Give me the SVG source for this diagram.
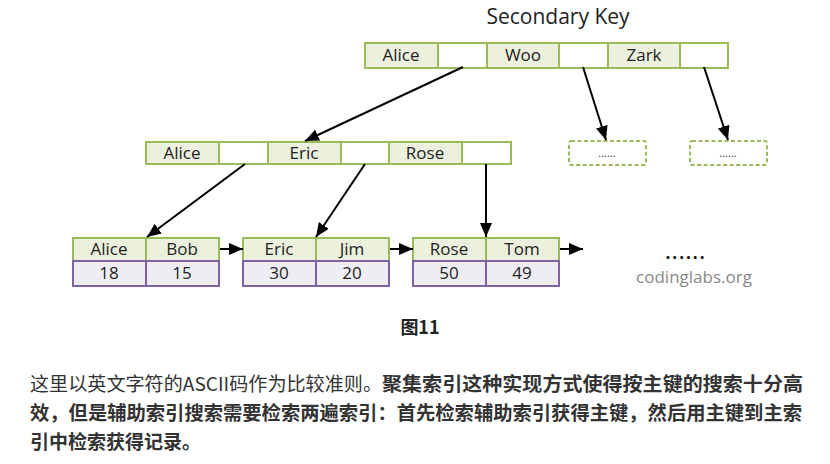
<svg xmlns="http://www.w3.org/2000/svg" width="830" height="464" viewBox="0 0 830 464">
<defs>
<marker id="ah" markerUnits="userSpaceOnUse" markerWidth="14" markerHeight="12" viewBox="0 0 14 12" refX="14" refY="6" orient="auto">
<path d="M0,0 L14,6 L0,12 Z" fill="#000"/>
</marker>
<style>
.k{fill:#ebf1dd;stroke:#9bbb59;stroke-width:2}
.e{fill:#fff;stroke:#9bbb59;stroke-width:2}
.v{fill:#efedf4;stroke:#8064a2;stroke-width:2}
.d{fill:#fff;stroke:#9bbb59;stroke-width:2;stroke-dasharray:4 2.5}
.t{font-family:"Open Sans","Noto Sans",sans-serif;font-size:17px;fill:#222;text-anchor:middle}
.c{stroke:#000;stroke-width:2;fill:none;marker-end:url(#ah)}
.p{font-family:"Noto Sans CJK SC",sans-serif;font-size:19px;fill:#333}
</style>
</defs>
<rect width="830" height="464" fill="#fff"/>
<text x="558" y="24" style="font-family:'Open Sans','Noto Sans',sans-serif;font-size:21px;fill:#222;text-anchor:middle">Secondary Key</text>

<g id="root">
<rect class="k" x="365" y="43" width="73" height="25"/>
<rect class="e" x="438" y="43" width="49" height="25"/>
<rect class="k" x="487" y="43" width="72" height="25"/>
<rect class="e" x="559" y="43" width="49" height="25"/>
<rect class="k" x="608" y="43" width="72" height="25"/>
<rect class="e" x="680" y="43" width="48" height="25"/>
<text class="t" x="401" y="61">Alice</text>
<text class="t" x="523" y="61">Woo</text>
<text class="t" x="644" y="61">Zark</text>
</g>

<g id="inner">
<rect class="k" x="146" y="142" width="73" height="22"/>
<rect class="e" x="219" y="142" width="49" height="22"/>
<rect class="k" x="268" y="142" width="73" height="22"/>
<rect class="e" x="341" y="142" width="48" height="22"/>
<rect class="k" x="389" y="142" width="73" height="22"/>
<rect class="e" x="462" y="142" width="49" height="22"/>
<text class="t" x="182" y="159">Alice</text>
<text class="t" x="304" y="159">Eric</text>
<text class="t" x="425" y="159">Rose</text>
</g>

<g id="more1">
<rect class="d" x="569" y="141" width="77" height="24" rx="2"/>
<text x="607" y="157" style="font-family:'Open Sans',sans-serif;font-size:11px;fill:#333;text-anchor:middle">......</text>
</g>
<g id="more2">
<rect class="d" x="690" y="141" width="77" height="24" rx="2"/>
<text x="728" y="157" style="font-family:'Open Sans',sans-serif;font-size:11px;fill:#333;text-anchor:middle">......</text>
</g>

<g id="leaf1">
<rect class="k" x="73" y="238" width="73" height="23"/>
<rect class="k" x="146" y="238" width="73" height="23"/>
<rect class="v" x="73" y="261" width="73" height="25"/>
<rect class="v" x="146" y="261" width="73" height="25"/>
<text class="t" x="109" y="255">Alice</text>
<text class="t" x="182" y="255">Bob</text>
<text class="t" x="109" y="279">18</text>
<text class="t" x="182" y="279">15</text>
</g>
<g id="leaf2">
<rect class="k" x="243" y="238" width="73" height="23"/>
<rect class="k" x="316" y="238" width="73" height="23"/>
<rect class="v" x="243" y="261" width="73" height="25"/>
<rect class="v" x="316" y="261" width="73" height="25"/>
<text class="t" x="279" y="255">Eric</text>
<text class="t" x="352" y="255">Jim</text>
<text class="t" x="279" y="279">30</text>
<text class="t" x="352" y="279">20</text>
</g>
<g id="leaf3">
<rect class="k" x="413" y="238" width="73" height="23"/>
<rect class="k" x="486" y="238" width="73" height="23"/>
<rect class="v" x="413" y="261" width="73" height="25"/>
<rect class="v" x="486" y="261" width="73" height="25"/>
<text class="t" x="449" y="255">Rose</text>
<text class="t" x="522" y="255">Tom</text>
<text class="t" x="449" y="279">50</text>
<text class="t" x="522" y="279">49</text>
</g>

<g id="connectors">
<line class="c" x1="463" y1="67" x2="305" y2="141"/>
<line class="c" x1="583" y1="67" x2="606" y2="140"/>
<line class="c" x1="704" y1="67" x2="728" y2="140"/>
<line class="c" x1="245" y1="164" x2="147" y2="237"/>
<line class="c" x1="365" y1="164" x2="316" y2="237"/>
<line class="c" x1="486" y1="164" x2="486" y2="237"/>
<line class="c" x1="220" y1="249" x2="243" y2="249"/>
<line class="c" x1="390" y1="249" x2="413" y2="249"/>
<line class="c" x1="560" y1="249" x2="583" y2="249"/>
</g>

<text x="686" y="259" style="font-family:'Open Sans',sans-serif;font-size:17px;font-weight:bold;fill:#111;text-anchor:middle;letter-spacing:2px">......</text>
<text x="694" y="283" style="font-family:'Open Sans',sans-serif;font-size:17px;fill:#888;text-anchor:middle">codinglabs.org</text>

<text x="420" y="334" style="font-family:'Noto Sans CJK SC',sans-serif;font-size:18px;font-weight:bold;fill:#222;text-anchor:middle">图11</text>

<text class="p" x="30" y="391" textLength="352" lengthAdjust="spacingAndGlyphs">这里以英文字符的ASCII码作为比较准则。</text>
<text class="p" x="382" y="391" font-weight="bold" textLength="421" lengthAdjust="spacingAndGlyphs">聚集索引这种实现方式使得按主键的搜索十分高</text>
<text class="p" x="30" y="420" font-weight="bold" textLength="772" lengthAdjust="spacingAndGlyphs">效，但是辅助索引搜索需要检索两遍索引：首先检索辅助索引获得主键，然后用主键到主索</text>
<text class="p" x="30" y="449" font-weight="bold">引中检索获得记录。</text>
</svg>
